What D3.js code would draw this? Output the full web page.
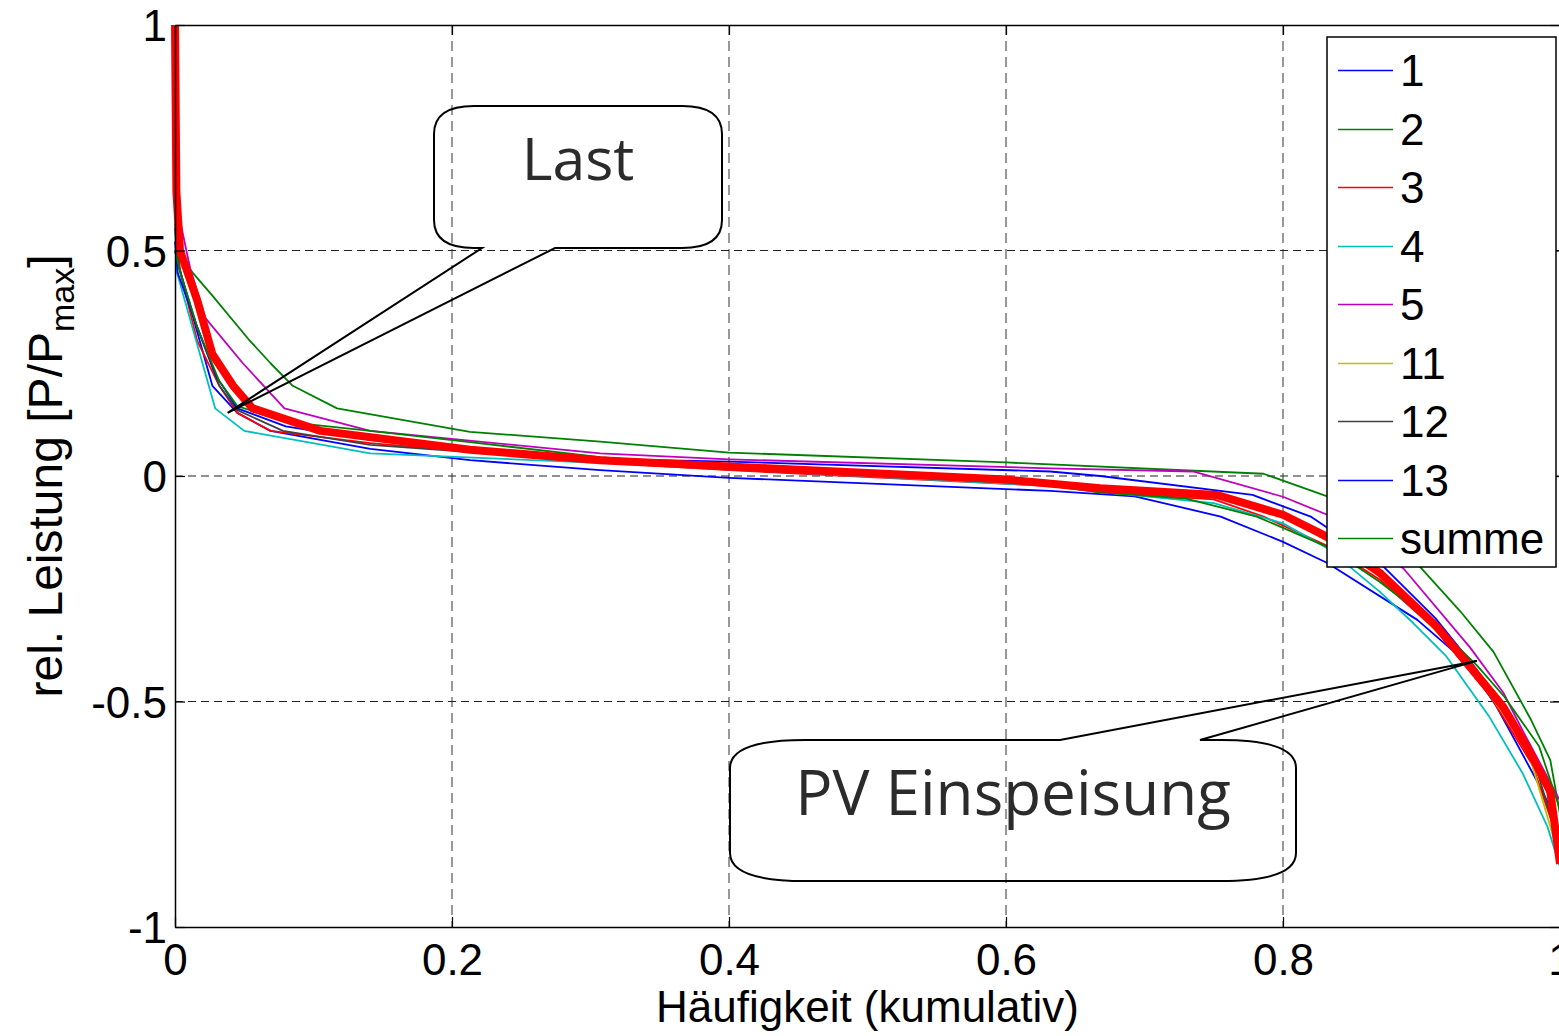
<!DOCTYPE html>
<html>
<head>
<meta charset="utf-8">
<script src="https://cdn.jsdelivr.net/npm/d3@7"></script>
<style>
  html, body { margin: 0; padding: 0; background: #fff; }
</style>
</head>
<body>
<div id="chart"></div>
<script>
// Dauerlinien der rel. Leistung je Haushalt (Last oben, PV Einspeisung unten)

const X_TICKS = [0, 0.2, 0.4, 0.6, 0.8, 1];
const Y_TICKS = [-1, -0.5, 0, 0.5, 1];

const LEGEND_LABELS = ['1', '2', '3', '4', '5', '11', '12', '13', 'summe'];
const LEGEND_COLORS = ['#0000ff', '#008000', '#ff0000', '#00bfbf', '#bf00bf', '#bfbf00', '#404040', '#0000ff', '#008000'];

// [Häufigkeit, P/Pmax]
const S1 = [[0,0.50],[0.0015,0.48],[0.016,0.32],[0.027,0.20],[0.045,0.14],[0.069,0.10],[0.141,0.06],[0.213,0.035],[0.307,0.013],[0.4,-0.004],[0.632,-0.033],[0.693,-0.045],[0.755,-0.09],[0.80,-0.146],[0.832,-0.193],[0.897,-0.319],[0.933,-0.415],[0.954,-0.51],[0.983,-0.674],[0.995,-0.747],[1,-0.80]];
const S2 = [[0,0.56],[0.003,0.49],[0.013,0.45],[0.027,0.40],[0.054,0.30],[0.069,0.25],[0.085,0.20],[0.117,0.15],[0.213,0.098],[0.307,0.076],[0.4,0.052],[0.6,0.03],[0.786,0.005],[0.832,-0.045],[0.897,-0.195],[0.928,-0.30],[0.952,-0.39],[0.979,-0.54],[0.993,-0.63],[1,-0.75]];
const S3 = [[0,0.55],[0.004,0.45],[0.016,0.30],[0.032,0.20],[0.045,0.14],[0.069,0.10],[0.141,0.073],[0.307,0.03],[0.4,0.013],[0.632,-0.022],[0.668,-0.036],[0.75,-0.052],[0.786,-0.09],[0.832,-0.155],[0.87,-0.23],[0.91,-0.34],[0.95,-0.49],[0.98,-0.64],[1,-0.82]];
const S4 = [[0,0.55],[0.0015,0.45],[0.029,0.15],[0.05,0.10],[0.141,0.05],[0.307,0.029],[0.4,0.015],[0.632,-0.022],[0.668,-0.035],[0.75,-0.06],[0.8,-0.105],[0.832,-0.16],[0.870,-0.257],[0.894,-0.326],[0.918,-0.40],[0.949,-0.534],[0.973,-0.659],[0.991,-0.778],[1,-0.867]];
const S5 = [[0,0.63],[0.002,0.59],[0.011,0.46],[0.022,0.35],[0.049,0.25],[0.079,0.15],[0.141,0.10],[0.307,0.05],[0.4,0.037],[0.632,0.017],[0.735,0.01],[0.8,-0.046],[0.832,-0.086],[0.887,-0.205],[0.935,-0.38],[0.959,-0.48],[0.974,-0.57],[1,-0.72]];
const S11 = [[0,0.60],[0.004,0.49],[0.016,0.38],[0.027,0.27],[0.042,0.20],[0.056,0.15],[0.105,0.10],[0.213,0.058],[0.4,0.02],[0.6,-0.008],[0.75,-0.042],[0.8,-0.086],[0.87,-0.215],[0.933,-0.415],[0.976,-0.60],[1,-0.85]];
const S12 = [[0,0.55],[0.003,0.46],[0.016,0.33],[0.032,0.20],[0.045,0.146],[0.078,0.10],[0.141,0.069],[0.307,0.033],[0.4,0.018],[0.632,-0.012],[0.75,-0.045],[0.8,-0.09],[0.832,-0.14],[0.87,-0.22],[0.91,-0.335],[0.94,-0.435],[0.96,-0.515],[0.98,-0.62],[1,-0.82]];
const S13 = [[0,0.52],[0.002,0.45],[0.016,0.33],[0.03,0.22],[0.045,0.15],[0.08,0.11],[0.141,0.08],[0.213,0.055],[0.307,0.038],[0.4,0.032],[0.632,0.01],[0.668,0.0],[0.778,-0.042],[0.82,-0.09],[0.832,-0.115],[0.87,-0.193],[0.91,-0.315],[0.94,-0.43],[0.965,-0.54],[0.99,-0.69],[1,-0.82]];
const SUMME = [[0,0.50],[0.003,0.46],[0.016,0.33],[0.032,0.21],[0.045,0.155],[0.08,0.12],[0.141,0.10],[0.213,0.075],[0.307,0.042],[0.4,0.02],[0.632,-0.02],[0.668,-0.036],[0.73,-0.05],[0.781,-0.09],[0.832,-0.157],[0.87,-0.235],[0.91,-0.33],[0.94,-0.42],[0.96,-0.49],[0.985,-0.60],[1,-0.74]];
// dicke rote Kurve (nicht in der Legende)
const MITTEL = [[0,1.0],[0.001,0.63],[0.0036,0.50],[0.016,0.39],[0.027,0.27],[0.042,0.20],[0.056,0.15],[0.105,0.10],[0.213,0.058],[0.307,0.035],[0.4,0.021],[0.6,-0.008],[0.668,-0.027],[0.752,-0.042],[0.8,-0.086],[0.832,-0.135],[0.87,-0.215],[0.911,-0.334],[0.933,-0.415],[0.959,-0.512],[0.976,-0.60],[0.993,-0.70],[1,-0.86]];

const SERIES = [S1, S2, S3, S4, S5, S11, S12, S13, SUMME];

(function () {
    const width = 1559, height = 1036;
    const left = 175, right = 1560, top = 25, bottom = 927;
    const FONT = '"Liberation Sans", Arial, sans-serif';
    const CALLOUT_FONT = '"Open Sans", "Noto Sans", sans-serif';
    const fmt = d => String(d);   // plain hyphen, like the original

    const x = d3.scaleLinear().domain([0, 1]).range([left, right]);
    const y = d3.scaleLinear().domain([-1, 1]).range([bottom, top]);

    const svg = d3.select('#chart').append('svg')
        .attr('width', width).attr('height', height)
        .style('display', 'block');

    svg.append('rect').attr('width', width).attr('height', height).attr('fill', '#fff');

    // ── Grid ────────────────────────────────────────────────────────────
    svg.selectAll('.vgrid').data(X_TICKS.slice(1, -1)).enter().append('line')
        .attr('x1', d => x(d)).attr('x2', d => x(d))
        .attr('y1', top).attr('y2', bottom)
        .attr('stroke', '#555').attr('stroke-width', 1.2).attr('stroke-dasharray', '10,6');
    svg.selectAll('.hgrid').data(Y_TICKS.slice(1, -1)).enter().append('line')
        .attr('x1', left).attr('x2', right)
        .attr('y1', d => y(d)).attr('y2', d => y(d))
        .attr('stroke', '#222').attr('stroke-width', 1.2).attr('stroke-dasharray', '8,5');

    // ── Curves ──────────────────────────────────────────────────────────
    const line = d3.line().x(d => x(d[0])).y(d => y(d[1]));

    SERIES.forEach((s, i) => {
        svg.append('path').datum(s)
            .attr('fill', 'none')
            .attr('stroke', LEGEND_COLORS[i])
            .attr('stroke-width', 1.8)
            .attr('stroke-linejoin', 'round')
            .attr('d', line);
    });

    svg.append('path').datum(MITTEL)
        .attr('fill', 'none')
        .attr('stroke', '#ff0000')
        .attr('stroke-width', 8)
        .attr('stroke-linejoin', 'round')
        .attr('d', line);

    // ── Axes ────────────────────────────────────────────────────────────
    const styleAxis = g => {
        g.select('.domain').attr('stroke', '#000').attr('stroke-width', 1.5);
        g.selectAll('.tick line').attr('stroke', '#000').attr('stroke-width', 1.2);
        g.selectAll('text').attr('fill', '#000').attr('font-family', FONT).attr('font-size', '44px');
    };

    svg.append('g').attr('transform', `translate(0,${bottom})`)
        .call(d3.axisBottom(x).tickValues(X_TICKS).tickFormat(fmt).tickSizeInner(-10).tickSizeOuter(0).tickPadding(17))
        .call(styleAxis);

    svg.append('g').attr('transform', `translate(${left},0)`)
        .call(d3.axisLeft(y).tickValues(Y_TICKS).tickFormat(fmt).tickSizeInner(-10).tickSizeOuter(0).tickPadding(8))
        .call(styleAxis)
        .selectAll('text').attr('dy', '0.36em');

    svg.append('g').attr('transform', `translate(0,${top})`)
        .call(d3.axisTop(x).tickValues(X_TICKS).tickFormat('').tickSizeInner(-10).tickSizeOuter(0))
        .call(styleAxis);

    svg.append('g').attr('transform', `translate(${right},0)`)
        .call(d3.axisRight(y).tickValues(Y_TICKS).tickFormat('').tickSizeInner(-10).tickSizeOuter(0))
        .call(styleAxis);

    // Axis labels
    svg.append('text')
        .attr('x', (left + right) / 2).attr('y', 1022)
        .attr('text-anchor', 'middle')
        .attr('font-family', FONT).attr('font-size', '44px').attr('fill', '#000')
        .text('Häufigkeit (kumulativ)');

    const ylab = svg.append('text')
        .attr('transform', `translate(62,${(top + bottom) / 2}) rotate(-90)`)
        .attr('text-anchor', 'middle')
        .attr('font-family', FONT).attr('font-size', '48px').attr('fill', '#000');
    ylab.append('tspan').text('rel. Leistung [P/P');
    ylab.append('tspan').attr('font-size', '34px').attr('dy', 12).text('max');
    ylab.append('tspan').attr('dy', -12).text(']');

    // ── Callouts ────────────────────────────────────────────────────────
    // box: x0,y0,x1,y1, corner radii, wedge gap on top or bottom edge, tip
    function callout(b) {
        const { x0, y0, x1, y1, rx, ry, g0, g1, tip, side } = b;
        const p = d3.path();
        if (side === 'bottom') {
            p.moveTo(x0 + rx, y0);
            p.lineTo(x1 - rx, y0);
            p.quadraticCurveTo(x1, y0, x1, y0 + ry);
            p.lineTo(x1, y1 - ry);
            p.quadraticCurveTo(x1, y1, x1 - rx, y1);
            p.lineTo(g1, y1);
            p.lineTo(tip[0], tip[1]);
            p.lineTo(g0, y1);
            p.lineTo(x0 + rx, y1);
            p.quadraticCurveTo(x0, y1, x0, y1 - ry);
            p.lineTo(x0, y0 + ry);
            p.quadraticCurveTo(x0, y0, x0 + rx, y0);
        } else {
            p.moveTo(x0 + rx, y0);
            p.lineTo(g0, y0);
            p.lineTo(tip[0], tip[1]);
            p.lineTo(g1, y0);
            p.lineTo(x1 - rx, y0);
            p.quadraticCurveTo(x1, y0, x1, y0 + ry);
            p.lineTo(x1, y1 - ry);
            p.quadraticCurveTo(x1, y1, x1 - rx, y1);
            p.lineTo(x0 + rx, y1);
            p.quadraticCurveTo(x0, y1, x0, y1 - ry);
            p.lineTo(x0, y0 + ry);
            p.quadraticCurveTo(x0, y0, x0 + rx, y0);
        }
        p.closePath();
        svg.append('path').attr('d', p.toString())
            .attr('fill', 'none').attr('stroke', '#000').attr('stroke-width', 2);
        svg.append('text')
            .attr('x', (x0 + x1) / 2).attr('y', b.baseline)
            .attr('text-anchor', 'middle')
            .attr('font-family', CALLOUT_FONT).attr('font-size', b.size).attr('fill', '#2b2b2b')
            .text(b.label);
    }

    callout({ label: 'Last', x0: 434, y0: 106, x1: 722, y1: 248, rx: 40, ry: 28,
              g0: 482, g1: 555, tip: [x(0.038), y(0.14)], side: 'bottom', baseline: 180, size: '59px' });
    callout({ label: 'PV Einspeisung', x0: 730, y0: 740, x1: 1296, y1: 881, rx: 75, ry: 28,
              g0: 1060, g1: 1200, tip: [x(0.94), y(-0.41)], side: 'top', baseline: 815, size: '62px' });

    // ── Legend ──────────────────────────────────────────────────────────
    const legend = svg.append('g');
    legend.append('rect')
        .attr('x', 1327).attr('y', 37).attr('width', 229).attr('height', 530)
        .attr('fill', '#fff').attr('stroke', '#000').attr('stroke-width', 1.5);
    LEGEND_LABELS.forEach((lab, i) => {
        const cy = Math.round(70 + i * 58.5) + 0.5;
        legend.append('line')
            .attr('x1', 1338).attr('x2', 1393).attr('y1', cy).attr('y2', cy)
            .attr('stroke', LEGEND_COLORS[i]).attr('stroke-width', 1.5);
        legend.append('text')
            .attr('x', 1400).attr('y', cy).attr('dy', '0.36em')
            .attr('font-family', FONT).attr('font-size', '44px').attr('fill', '#000')
            .text(lab);
    });
})();
</script>
</body>
</html>
